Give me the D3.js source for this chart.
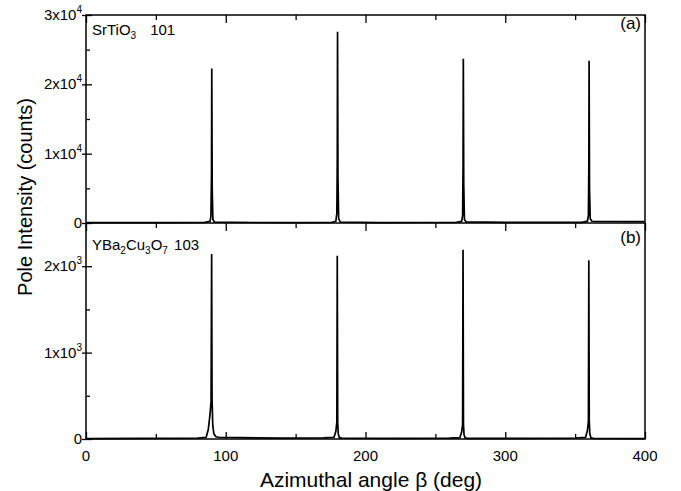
<!DOCTYPE html>
<html>
<head>
<meta charset="utf-8">
<script src="https://cdn.jsdelivr.net/npm/d3@7"></script>
<style>
    body { margin: 0; background: #fff; }
    text { font-family: "Liberation Sans", Arial, sans-serif; fill: #000; }
    .tick line { stroke: #000; stroke-width: 1.3; }
</style>
</head>
<body>
<svg id="chart" width="681" height="491"></svg>
<script>
// Tick values and labels.
var angleMajor = [0, 100, 200, 300, 400];
var angleMinor = [50, 150, 250, 350];
var srtioMajor = [0, 10000, 20000, 30000];
var srtioMajorLabels = [['0', ''], ['1x10', '4'], ['2x10', '4'], ['3x10', '4']];
var srtioMinor = [5000, 15000, 25000];
var ybcoMajor = [0, 1000, 2000];
var ybcoMajorLabels = [['0', ''], ['1x10', '3'], ['2x10', '3']];
var ybcoMinor = [500, 1500];

// SrTiO3 101 phi scan.
var srtioAngle = [0, 30, 60, 85, 88.8, 89.4, 89.8, 90.0, 90.3, 90.8, 92,
    120, 150, 176, 178.8, 179.5, 179.8, 180.0, 180.3, 180.8, 182,
    210, 240, 265, 268.8, 269.5, 269.8, 270.0, 270.3, 270.8, 272,
    300, 330, 355, 358.8, 359.5, 359.8, 360.0, 360.3, 360.8, 362, 380, 400];
var srtioCounts = [40, 50, 60, 80, 250, 1000, 7000, 22300, 5000, 500, 120,
    70, 60, 90, 260, 1400, 9000, 27600, 6500, 600, 140,
    60, 70, 90, 240, 1100, 8000, 23700, 5500, 500, 150,
    80, 80, 100, 260, 1100, 8000, 23400, 5000, 600, 250, 220, 200];

// YBa2Cu3O7 103 phi scan.
var ybcoAngle = [0, 40, 80, 86, 87.5, 88.7, 89.5, 89.9, 90.2, 90.7, 91.5, 93, 95, 110,
    140, 170, 177.5, 178.8, 179.5, 179.8, 180.1, 180.5, 181.3, 183,
    220, 260, 267.5, 268.8, 269.5, 269.8, 270.1, 270.5, 271.3, 273,
    310, 350, 357.5, 358.8, 359.5, 359.8, 360.1, 360.5, 361.3, 363, 400];
var ybcoCounts = [5, 8, 10, 20, 110, 280, 430, 2140, 480, 160, 60, 25, 20, 15,
    10, 12, 20, 90, 200, 2120, 200, 60, 15, 10,
    8, 10, 15, 80, 170, 2190, 170, 50, 12, 8,
    8, 10, 20, 100, 200, 2070, 210, 60, 15, 8, 5];

var svg = d3.select('#chart'),
    plotLeft = 86,
    plotRight = 645,
    plotTop = 15,
    plotSplit = 223,
    plotBottom = 439;

var x = d3.scaleLinear().domain([0, 400]).range([plotLeft, plotRight]);
var yTop = d3.scaleLinear().domain([0, 30000]).range([plotSplit, plotTop]);
var yBot = d3.scaleLinear().domain([0, 2500]).range([plotBottom, plotSplit]);

// Draws the y ticks (crossing majors, inner minors) and superscript labels.
function drawYAxis( scale, major, labels, minor ) {
    svg.append('g').attr('transform', 'translate(' + plotLeft + ',0)')
        .call(d3.axisLeft(scale).tickValues(major).tickSize(4).tickFormat(''))
        .call(g => g.select('.domain').remove());
    svg.append('g').attr('transform', 'translate(' + plotLeft + ',0)')
        .call(d3.axisRight(scale).tickValues(major).tickSize(6).tickFormat(''))
        .call(g => g.select('.domain').remove());
    svg.append('g').attr('transform', 'translate(' + plotLeft + ',0)')
        .call(d3.axisRight(scale).tickValues(minor).tickSize(4).tickFormat(''))
        .call(g => g.select('.domain').remove());

    major.forEach(function ( v, i ) {
        var t = svg.append('text')
            .attr('x', plotLeft - 4)
            .attr('y', scale(v) + 5)
            .attr('text-anchor', 'end')
            .attr('font-size', 15);
        t.append('tspan').text(labels[i][0]);
        if ( labels[i][1] ) {
            t.append('tspan').attr('dy', -7).attr('font-size', 10).text(labels[i][1]);
        }
    });
}

// Top edges of each panel: ticks hang down.
[plotTop, plotSplit].forEach(function ( yy ) {
    svg.append('g').attr('transform', 'translate(0,' + yy + ')')
        .call(d3.axisBottom(x).tickValues(angleMajor).tickSize(8).tickFormat(''))
        .call(g => g.select('.domain').remove());
    svg.append('g').attr('transform', 'translate(0,' + yy + ')')
        .call(d3.axisBottom(x).tickValues(angleMinor).tickSize(5).tickFormat(''))
        .call(g => g.select('.domain').remove());
});

// Bottom axis: ticks point up.
svg.append('g').attr('transform', 'translate(0,' + plotBottom + ')')
    .call(d3.axisTop(x).tickValues(angleMajor).tickSize(7).tickFormat(''))
    .call(g => g.select('.domain').remove());
svg.append('g').attr('transform', 'translate(0,' + plotBottom + ')')
    .call(d3.axisTop(x).tickValues(angleMinor).tickSize(5).tickFormat(''))
    .call(g => g.select('.domain').remove());

svg.selectAll('text.xlab')
    .data(angleMajor)
    .join('text')
    .attr('class', 'xlab')
    .attr('x', d => x(d))
    .attr('y', plotBottom + 22)
    .attr('text-anchor', 'middle')
    .attr('font-size', 15)
    .text(d => d);

drawYAxis(yTop, srtioMajor, srtioMajorLabels, srtioMinor);
drawYAxis(yBot, ybcoMajor, ybcoMajorLabels, ybcoMinor);

// Scan lines.
var lineTop = d3.line().x(d => x(d[0])).y(d => yTop(d[1]));
var lineBot = d3.line().x(d => x(d[0])).y(d => yBot(d[1]));

svg.append('path')
    .datum(d3.zip(srtioAngle, srtioCounts))
    .attr('d', lineTop)
    .attr('fill', 'none')
    .attr('stroke', '#000')
    .attr('stroke-width', 1.7);

svg.append('path')
    .datum(d3.zip(ybcoAngle, ybcoCounts))
    .attr('d', lineBot)
    .attr('fill', 'none')
    .attr('stroke', '#000')
    .attr('stroke-width', 1.7);

// Frame and panel divider.
svg.append('rect')
    .attr('x', plotLeft).attr('y', plotTop)
    .attr('width', plotRight - plotLeft).attr('height', plotBottom - plotTop)
    .attr('fill', 'none').attr('stroke', '#000').attr('stroke-width', 1.5);
svg.append('line')
    .attr('x1', plotLeft).attr('x2', plotRight)
    .attr('y1', plotSplit).attr('y2', plotSplit)
    .attr('stroke', '#000').attr('stroke-width', 1.5);

// Panel labels.
var la = svg.append('text').attr('x', 92).attr('y', 35).attr('font-size', 15);
la.append('tspan').text('SrTiO');
la.append('tspan').attr('dy', 4).attr('font-size', 10).text('3');
la.append('tspan').attr('dy', -4).attr('dx', 14).text('101');

var lb = svg.append('text').attr('x', 92).attr('y', 250).attr('font-size', 15);
lb.append('tspan').text('YBa');
lb.append('tspan').attr('dy', 4).attr('font-size', 10).text('2');
lb.append('tspan').attr('dy', -4).text('Cu');
lb.append('tspan').attr('dy', 4).attr('font-size', 10).text('3');
lb.append('tspan').attr('dy', -4).text('O');
lb.append('tspan').attr('dy', 4).attr('font-size', 10).text('7');
lb.append('tspan').attr('dy', -4).attr('dx', 2).text(' 103');

svg.append('text').attr('x', 641).attr('y', 29).attr('text-anchor', 'end')
    .attr('font-size', 17).text('(a)');
svg.append('text').attr('x', 641).attr('y', 243).attr('text-anchor', 'end')
    .attr('font-size', 17).text('(b)');

// Axis titles.
svg.append('text')
    .attr('transform', 'translate(32,197) rotate(-90)')
    .attr('text-anchor', 'middle')
    .attr('font-size', 20)
    .text('Pole Intensity (counts)');
svg.append('text')
    .attr('x', 371).attr('y', 487)
    .attr('text-anchor', 'middle')
    .attr('font-size', 21)
    .text('Azimuthal angle \u03b2 (deg)');
</script>
</body>
</html>
